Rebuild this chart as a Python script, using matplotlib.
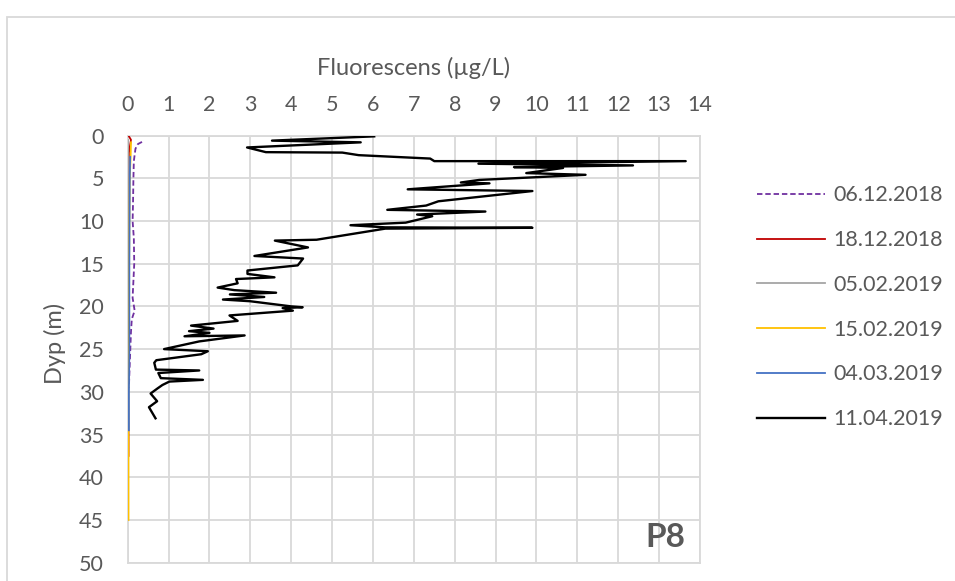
import numpy as np
import matplotlib
matplotlib.use("Agg")
import matplotlib.pyplot as plt
from matplotlib.patches import Rectangle

plt.rcParams['font.family'] = ['Lato', 'DejaVu Sans']

# profiler: (fluorescens, dybde)
f_0612 = [0.35, 0.25, 0.19, 0.15, 0.14, 0.13, 0.12, 0.15, 0.16, 0.14, 0.12, 0.17, 0.10, 0.08, 0.06, 0.04, 0.03]
d_0612 = [0.75, 1.0, 1.55, 3.0, 5.0, 8.0, 10.0, 12.0, 15.0, 17.0, 19.0, 20.5, 21.5, 23.0, 25.5, 28.0, 29.5]

f_1812 = [0.03, 0.08, 0.03, 0.02, 0.02, 0.01, 0.02, 0.02]
d_1812 = [0.1, 0.5, 2.0, 10.0, 20.0, 30.0, 35.0, 37.5]

f_0502 = [0.01, 0.01, 0.01, 0.01]
d_0502 = [0.5, 10.0, 25.0, 35.0]

f_1502 = [0.08, 0.07, 0.05, 0.04, 0.03, 0.02, 0.02, 0.02]
d_1502 = [0.8, 2.7, 5.0, 10.0, 20.0, 30.0, 38.0, 45.0]

f_0403 = [0.06, 0.05, 0.04, 0.04, 0.03, 0.03]
d_0403 = [2.5, 5.0, 15.0, 25.0, 30.0, 34.5]

f_1104 = [6.03, 3.53, 5.70, 2.92, 3.38, 5.25, 5.65, 7.40, 7.50, 8.30, 13.65, 8.58, 12.36,
          9.45, 10.65, 9.75, 11.20, 8.60, 8.15, 8.85, 6.85, 9.90, 7.60, 7.30, 6.35, 8.75,
          7.08, 7.45, 6.80, 5.45, 6.30, 9.90, 6.30, 4.62, 3.60, 4.41, 3.10, 4.29, 4.16,
          2.93, 2.93, 3.59, 2.65, 2.69, 2.20, 2.61, 3.63, 2.50, 3.34, 2.33, 3.00, 4.00,
          4.28, 3.79, 4.04, 2.49, 2.69, 1.55, 2.10, 1.50, 2.00, 1.39, 2.86, 1.75, 0.89,
          1.96, 1.80, 0.70, 0.65, 0.69, 1.75, 0.75, 0.81, 1.84, 1.02, 0.85, 0.73, 0.56,
          0.72, 0.52, 0.68]
d_1104 = [0.1, 0.6, 0.8, 1.4, 1.95, 2.0, 2.3, 2.7, 3.0, 3.0, 3.0, 3.3, 3.5,
          3.7, 3.8, 4.4, 4.6, 5.2, 5.5, 5.6, 6.3, 6.5, 7.7, 8.2, 8.7, 8.9,
          9.25, 9.45, 10.2, 10.5, 10.75, 10.8, 10.9, 12.2, 12.3, 13.1, 14.1, 14.4, 15.2,
          15.8, 16.2, 16.6, 16.8, 17.3, 17.8, 18.1, 18.4, 18.6, 18.9, 19.2, 19.4, 20.0,
          20.1, 20.2, 20.5, 21.06, 21.7, 22.25, 22.6, 22.9, 23.1, 23.5, 23.4, 24.1, 25.0,
          25.25, 25.6, 26.3, 26.6, 27.4, 27.5, 27.8, 28.4, 28.6, 28.8, 29.2, 29.6, 30.2,
          31.1, 31.8, 33.1]

tekstfarge = '#595959'
gridfarge = '#D9D9D9'

fig = plt.figure(figsize=(9.55, 5.81), dpi=100)
ax = fig.add_axes([127.7/955, 1-562.7/581, (700-127.7)/955, (562.7-135.5)/581])

ax.plot(f_0612, d_0612, color='#7030A0', lw=1.3, ls=(0, (3, 1.6)), label='06.12.2018', zorder=3)
ax.plot(f_1812, d_1812, color='#C00000', lw=1.3, label='18.12.2018', zorder=3)
ax.plot(f_0502, d_0502, color='#A5A5A5', lw=1.3, label='05.02.2019', zorder=3)
ax.plot(f_1502, d_1502, color='#FFC000', lw=1.3, label='15.02.2019', zorder=3)
ax.plot(f_0403, d_0403, color='#4472C4', lw=1.3, label='04.03.2019', zorder=3)
ax.plot(f_1104, d_1104, color='black', lw=1.7, label='11.04.2019', zorder=3)

ax.set_xlim(0, 14)
ax.set_ylim(50, 0)
ax.set_xticks(range(0, 15))
ax.set_yticks(range(0, 51, 5))
ax.xaxis.tick_top()
ax.tick_params(axis='x', length=0, pad=15, labelsize=15.5, labelcolor=tekstfarge)
ax.tick_params(axis='y', length=0, pad=17, labelsize=15.5, labelcolor=tekstfarge)
ax.grid(True, color=gridfarge, lw=1.3)
ax.set_axisbelow(True)
for s in ax.spines.values():
    s.set_color(gridfarge)
    s.set_linewidth(1.3)
    s.set_zorder(1)

fig.text(414/955, 1-68/581, 'Fluorescens (µg/L)', ha='center', va='center',
         fontsize=17, color=tekstfarge)
fig.text(55/955, 1-343/581, 'Dyp (m)', ha='center', va='center', rotation=90,
         fontsize=17, color=tekstfarge)
ax.text(0.975, 0.058, 'P8', transform=ax.transAxes, ha='right', va='center',
        fontsize=24, fontweight='bold', color=tekstfarge)

leg = ax.legend(loc='upper left', bbox_to_anchor=(738/955, 1-166/581),
                bbox_transform=fig.transFigure, frameon=False, fontsize=15.5,
                handlelength=3.16, handletextpad=0.35, labelspacing=1.15)
for t in leg.get_texts():
    t.set_color(tekstfarge)

# ramme rundt diagrammet
fig.patches.append(Rectangle((7/955, -0.1), 1.2, 1-17/581+0.1, transform=fig.transFigure,
                             fill=False, edgecolor=gridfarge, lw=1.3))

fig.savefig('out.png', dpi=100)
